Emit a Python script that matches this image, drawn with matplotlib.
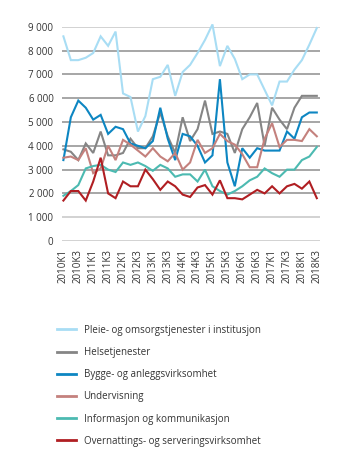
import matplotlib
matplotlib.use("Agg")
import matplotlib.pyplot as plt

plt.rcParams['font.family'] = ['Open Sans', 'DejaVu Sans']

years = range(2010, 2019)
quarters = [f"{y}K{q}" for y in years for q in range(1, 5)][:35]

pleie = [8600, 7600, 7600, 7700, 7900, 8600, 8200, 8800, 6200, 6050, 4600, 5250,
         6800, 6900, 7400, 6100, 7100, 7400, 7900, 8450, 9100, 7350, 8200, 7650,
         6800, 7000, 7000, 6350, 5700, 6700, 6700, 7200, 7600, 8250, 8950]
helse = [3850, 3750, 3400, 4100, 3700, 4600, 3600, 3600, 3700, 4300, 3900, 3900,
         4400, 5400, 4400, 3700, 5200, 4200, 4700, 5900, 4500, 4600, 4500, 3700,
         4700, 5200, 5800, 4000, 5600, 5100, 4700, 5600, 6100, 6100, 6100]
bygge = [3400, 5200, 5900, 5600, 5100, 5300, 4500, 4800, 4700, 4100, 4000, 3900,
         4200, 5600, 4300, 3400, 4500, 4400, 4000, 3300, 3600, 6800, 3300, 2300,
         3900, 3500, 3900, 3800, 3800, 3800, 4600, 4300, 5200, 5400, 5400]
underv = [3500, 3550, 3400, 3900, 2850, 3050, 4000, 3400, 4250, 4050, 3800, 3550,
          3900, 3550, 3350, 3700, 3000, 3300, 4250, 3700, 3900, 4500, 4200, 4050,
          3650, 3100, 3100, 4300, 4950, 3950, 4250, 4250, 4200, 4700, 4400]
info = [1900, 2100, 2350, 3050, 3150, 3200, 3000, 2900, 3300, 3200, 3300, 3150,
        2950, 3200, 3050, 2700, 2800, 2800, 2500, 3000, 2300, 2100, 1950, 2100,
        2300, 2550, 2700, 3050, 2850, 2700, 3000, 3000, 3400, 3550, 3950]
overn = [1700, 2100, 2100, 1700, 2500, 3500, 2000, 1800, 2500, 2300, 2300, 3000,
         2600, 2150, 2500, 2300, 1950, 1850, 2250, 2350, 1950, 2550, 1800, 1800,
         1750, 1950, 2150, 2000, 2300, 2000, 2300, 2400, 2200, 2500, 1800]

series = [
    ("Pleie- og omsorgstjenester i institusjon", pleie, "#a8ddf4"),
    ("Helsetjenester", helse, "#858585"),
    ("Bygge- og anleggsvirksomhet", bygge, "#0d86c2"),
    ("Undervisning", underv, "#c4817d"),
    ("Informasjon og kommunikasjon", info, "#4cbab1"),
    ("Overnattings- og serveringsvirksomhet", overn, "#b01e22"),
]

yticks = [0, 1000, 2000, 3000, 4000, 5000, 6000, 7000, 8000, 9000]
ytick_labels = ["0", "1 000", "2 000", "3 000", "4 000", "5 000", "6 000",
                "7 000", "8 000", "9 000"]

fig = plt.figure(figsize=(3.45, 4.68), dpi=100)
ax = fig.add_axes([0.179, 0.485, 0.749, 0.4577])

x = list(range(len(quarters)))
for t in yticks:
    c = "#c6c6c6" if t in (0, 1000, 9000) else "#8e8e8e"
    ax.axhline(t, color=c, lw=1.1, zorder=0)

for name, vals, col in series:
    ax.plot(x, vals, color=col, lw=1.5, label=name, clip_on=False, zorder=3,
            solid_joinstyle="miter")

ax.set_xlim(-0.22, 34.45)
ax.set_ylim(0, 9000)
ax.set_yticks(yticks)
ax.set_yticklabels(ytick_labels, fontsize=7, color="#333333")
ax.set_xticks(x[::2])
ax.set_xticklabels(quarters[::2], rotation=90, fontsize=7, color="#333333")
ax.tick_params(axis="both", length=0)
ax.tick_params(axis="y", pad=6)
ax.tick_params(axis="x", pad=6)
for s in ax.spines.values():
    s.set_visible(False)

handles, labels = ax.get_legend_handles_labels()
leg = fig.legend(handles, labels, loc="upper left", bbox_to_anchor=(0.166, 0.306),
                 frameon=False, fontsize=7, handlelength=1.9, handletextpad=0.8,
                 labelspacing=1.15, borderaxespad=0, borderpad=0)
for t in leg.get_texts():
    t.set_color("#333333")
for l in leg.get_lines():
    l.set_linewidth(2)

fig.savefig("out.png", dpi=100)
